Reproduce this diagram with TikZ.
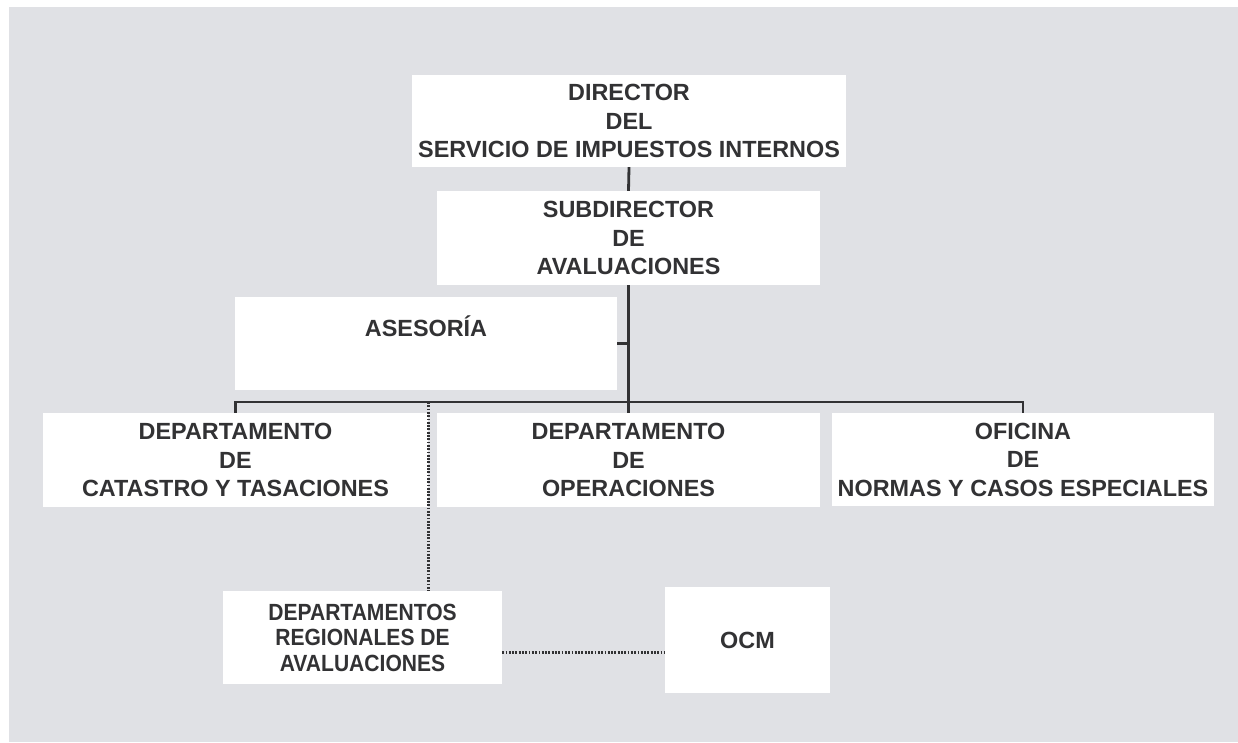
\documentclass[tikz,border=0pt]{standalone}
\usepackage{fontspec}
\setmainfont{Liberation Sans}
\usepackage{xcolor}
\usepackage{tikz}
\usetikzlibrary{positioning,calc}

\definecolor{paper}{RGB}{224,225,229}
\definecolor{ink}{RGB}{50,50,52}

\tikzset{
    box/.style={fill=white, inner sep=0pt, align=center, text=ink,
        font=\bfseries\fontsize{23.4}{28.5}\selectfont},
    narrow/.style={font=\bfseries\fontsize{23.4}{25.5}\selectfont\addfontfeature{FakeStretch=0.9}},
    conn/.style={draw=ink, line width=2.8pt},
    dotline/.style={draw=ink, line width=2.6pt, dash pattern=on 1.8pt off 1.5pt}
}

\begin{document}
\begin{tikzpicture}[x=1pt, y=-1pt]
    \useasboundingbox (0,0) rectangle (1238,742);
    \fill [paper] (9,7) rectangle (1238,742);

    % Direction
    \node[box, minimum width=434pt, minimum height=92pt] (dir) at (629,121)
        {DIRECTOR\\DEL\\SERVICIO DE IMPUESTOS INTERNOS};
    \node[box, minimum width=383pt, minimum height=94pt] (sub) at (628.5,238)
        {SUBDIRECTOR\\DE\\AVALUACIONES};
    \node[box, minimum width=382pt, minimum height=93pt] (ases) at (426,343.5)
        {ASESORÍA\\[6pt]};

    % Departments
    \node[box, minimum width=385pt, minimum height=94pt] (cat) at (235.5,460)
        {DEPARTAMENTO\\DE\\CATASTRO Y TASACIONES};
    \node[box, minimum width=383pt, minimum height=94pt] (ope) at (628.5,460)
        {DEPARTAMENTO\\DE\\OPERACIONES};
    \node[box, minimum width=382pt, minimum height=93pt] (ofi) at (1023,459.5)
        {OFICINA\\DE\\NORMAS Y CASOS ESPECIALES};

    % Regional level
    \node[box, narrow, minimum width=279pt, minimum height=93pt] (reg) at (362.5,637.5)
        {DEPARTAMENTOS\\REGIONALES DE\\AVALUACIONES};
    \node[box, minimum width=165pt, minimum height=106pt] (ocm) at (747.5,640)
        {OCM};

    % Solid lines
    \coordinate (bus) at (629,402);
    \draw [conn] (dir.south) -- (sub.north);
    \draw [conn] (sub.south) -- (ope.north);
    \draw [conn] (ases.east) -- (ases.east -| sub.south);
    \draw [conn] (cat.north) |- (ofi.north |- bus) -- (ofi.north);

    % Dotted lines
    \draw [dotline] (cat.north east |- bus) -- (cat.north east |- reg.north);
    \draw [dotline] ($(reg.east)+(0,15)$) coordinate (rl) -- (rl -| ocm.west);
\end{tikzpicture}
\end{document}
